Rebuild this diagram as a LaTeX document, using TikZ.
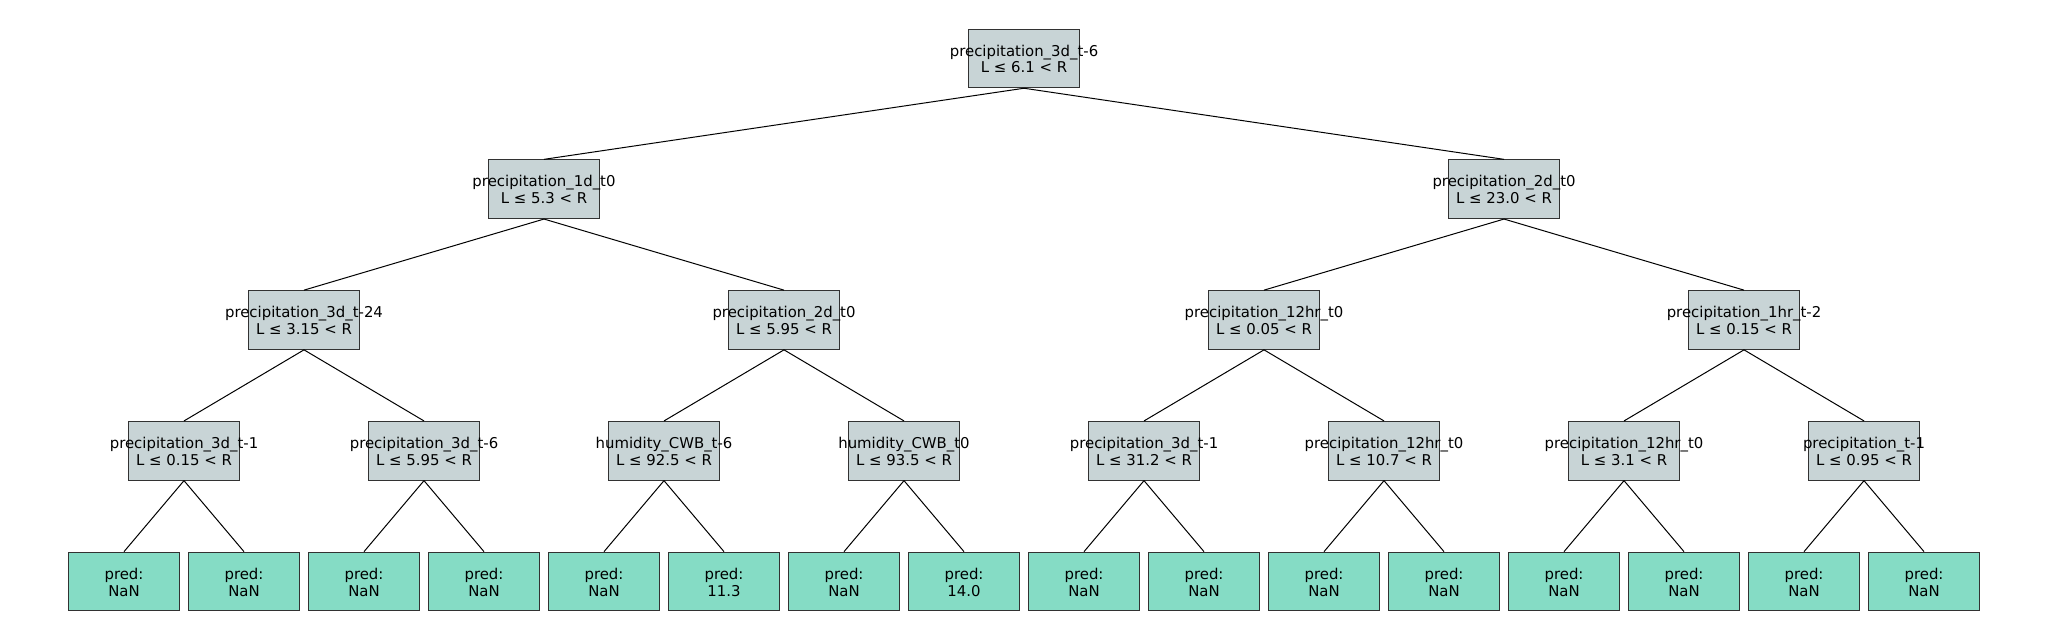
\documentclass[tikz,border=0pt]{standalone}
\usepackage{fontspec}
\setmainfont{DejaVu Sans}
\definecolor{splitfill}{RGB}{200,212,214}
\definecolor{leaffill}{RGB}{133,220,197}
\definecolor{boxline}{RGB}{50,50,50}
\newcommand{\twoline}[2]{\raisebox{-1.4pt}[\height][\depth]{\makebox[0pt][c]{\begin{tabular}{@{}c@{}}#1\\#2\end{tabular}}}}
\begin{document}
\begin{tikzpicture}[x=0.5pt,y=-0.5pt,
  box/.style={rectangle,draw=boxline,line width=0.5pt,minimum width=55.3pt,minimum height=29.35pt,inner sep=0pt,
    font=\fontsize{7.45}{8.4}\selectfont},
  split/.style={box,fill=splitfill},
  leaf/.style={box,fill=leaffill},
  edge/.style={draw=black,line width=0.5pt}]
\useasboundingbox (0,0) rectangle (2048,640);
% level 0
\node[split] (r) at (1024,58.4) {\twoline{precipitation\_3d\_t-6}{L ≤ 6.1 < R}};
% level 1
\node[split] (a) at (544,189.2) {\twoline{precipitation\_1d\_t0}{L ≤ 5.3 < R}};
\node[split] (b) at (1504,189.2) {\twoline{precipitation\_2d\_t0}{L ≤ 23.0 < R}};
% level 2
\node[split] (aa) at (304,320) {\twoline{precipitation\_3d\_t-24}{L ≤ 3.15 < R}};
\node[split] (ab) at (784,320) {\twoline{precipitation\_2d\_t0}{L ≤ 5.95 < R}};
\node[split] (ba) at (1264,320) {\twoline{precipitation\_12hr\_t0}{L ≤ 0.05 < R}};
\node[split] (bb) at (1744,320) {\twoline{precipitation\_1hr\_t-2}{L ≤ 0.15 < R}};
% level 3
\node[split] (aaa) at (184,450.8) {\twoline{precipitation\_3d\_t-1}{L ≤ 0.15 < R}};
\node[split] (aab) at (424,450.8) {\twoline{precipitation\_3d\_t-6}{L ≤ 5.95 < R}};
\node[split] (aba) at (664,450.8) {\twoline{humidity\_CWB\_t-6}{L ≤ 92.5 < R}};
\node[split] (abb) at (904,450.8) {\twoline{humidity\_CWB\_t0}{L ≤ 93.5 < R}};
\node[split] (baa) at (1144,450.8) {\twoline{precipitation\_3d\_t-1}{L ≤ 31.2 < R}};
\node[split] (bab) at (1384,450.8) {\twoline{precipitation\_12hr\_t0}{L ≤ 10.7 < R}};
\node[split] (bba) at (1624,450.8) {\twoline{precipitation\_12hr\_t0}{L ≤ 3.1 < R}};
\node[split] (bbb) at (1864,450.8) {\twoline{precipitation\_t-1}{L ≤ 0.95 < R}};
% leaves
\node[leaf] (l1) at (124,581.5) {\twoline{pred:}{NaN}};
\node[leaf] (l2) at (244,581.5) {\twoline{pred:}{NaN}};
\node[leaf] (l3) at (364,581.5) {\twoline{pred:}{NaN}};
\node[leaf] (l4) at (484,581.5) {\twoline{pred:}{NaN}};
\node[leaf] (l5) at (604,581.5) {\twoline{pred:}{NaN}};
\node[leaf] (l6) at (724,581.5) {\twoline{pred:}{11.3}};
\node[leaf] (l7) at (844,581.5) {\twoline{pred:}{NaN}};
\node[leaf] (l8) at (964,581.5) {\twoline{pred:}{14.0}};
\node[leaf] (l9) at (1084,581.5) {\twoline{pred:}{NaN}};
\node[leaf] (l10) at (1204,581.5) {\twoline{pred:}{NaN}};
\node[leaf] (l11) at (1324,581.5) {\twoline{pred:}{NaN}};
\node[leaf] (l12) at (1444,581.5) {\twoline{pred:}{NaN}};
\node[leaf] (l13) at (1564,581.5) {\twoline{pred:}{NaN}};
\node[leaf] (l14) at (1684,581.5) {\twoline{pred:}{NaN}};
\node[leaf] (l15) at (1804,581.5) {\twoline{pred:}{NaN}};
\node[leaf] (l16) at (1924,581.5) {\twoline{pred:}{NaN}};
% edges
\foreach \p/\c in {r/a,r/b,a/aa,a/ab,b/ba,b/bb,
  aa/aaa,aa/aab,ab/aba,ab/abb,ba/baa,ba/bab,bb/bba,bb/bbb,
  aaa/l1,aaa/l2,aab/l3,aab/l4,aba/l5,aba/l6,abb/l7,abb/l8,
  baa/l9,baa/l10,bab/l11,bab/l12,bba/l13,bba/l14,bbb/l15,bbb/l16}
  \draw[edge] (\p.south) -- (\c.north);
\end{tikzpicture}
\end{document}
